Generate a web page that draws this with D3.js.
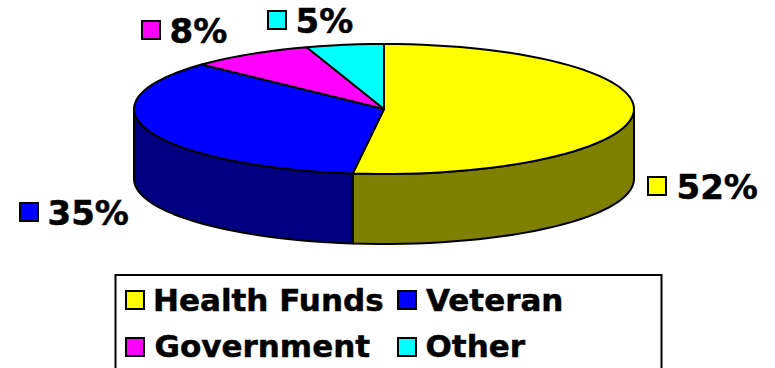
<!DOCTYPE html>
<html>
<head>
<meta charset="utf-8">
<style>
html, body { margin: 0; padding: 0; background: #fff; }
svg { display: block; }
text { font-family: "DejaVu Sans", sans-serif; font-weight: bold; fill: #000; stroke: #000; stroke-width: 0.5px; }
</style>
<script src="https://cdn.jsdelivr.net/npm/d3@7"></script>
</head>
<body>
<svg id="chart" width="775" height="368"></svg>
<script>
const categories = ["Health Funds", "Veteran", "Government", "Other"];
const shares = [52, 35, 8, 5];
const topColors = ["#ffff00", "#0000ff", "#ff00ff", "#00ffff"];
const sideColors = ["#808000", "#000080", "#800080", "#008080"];
const valueKeyPos = [[648, 177], [20, 203], [142, 21], [268, 11]];
const valueTextPos = [[676.5, 199], [47.5, 224.5], [169.5, 42.5], [295.5, 32.5]];
const legendKeyPos = [[126, 291], [398, 291], [126, 338], [398, 338]];
const legendTextPos = [[153, 311], [426, 311], [154.5, 357], [425.5, 357]];

const svg = d3.select("#chart");

// Unit-circle coordinates mapped onto the flattened disc.
const sx = d3.scaleLinear().domain([-1, 1]).range([134, 634]);
const sy = d3.scaleLinear().domain([-1, 1]).range([44, 174]);
const depth = 70;

const arcs = d3.pie().sort(null)(shares);
const outline = d3.line();
const rimPoint = a => [sx(Math.sin(a)), sy(-Math.cos(a))];

function rim(a0, a1) {
  const n = Math.max(2, Math.ceil((a1 - a0) / (Math.PI / 60)));
  return d3.range(n + 1).map(i => rimPoint(a0 + (a1 - a0) * i / n));
}

// Visible wall: only the part of each slice's rim on the near side of the disc.
const wall = svg.append("g");
arcs.forEach((d, i) => {
  const a0 = Math.max(d.startAngle, Math.PI / 2);
  const a1 = Math.min(d.endAngle, 3 * Math.PI / 2);
  if (a1 <= a0) return;
  const upper = rim(a0, a1);
  const lower = upper.slice().reverse().map(([x, y]) => [x, y + depth]);
  wall.append("path")
    .attr("d", outline(upper.concat(lower)) + "Z")
    .attr("fill", sideColors[i])
    .attr("stroke", "#000")
    .attr("stroke-width", 2)
    .attr("stroke-linejoin", "round");
});

// Top faces of the slices.
const faces = svg.append("g");
arcs.forEach((d, i) => {
  const pts = [[sx(0), sy(0)]].concat(rim(d.startAngle, d.endAngle));
  faces.append("path")
    .attr("d", outline(pts) + "Z")
    .attr("fill", topColors[i])
    .attr("stroke", "#000")
    .attr("stroke-width", 2)
    .attr("stroke-linejoin", "round");
});

function swatch(g, [x, y], size, color) {
  g.append("rect")
    .attr("x", x).attr("y", y)
    .attr("width", size).attr("height", size)
    .attr("fill", color)
    .attr("stroke", "#000")
    .attr("stroke-width", 2);
}

// Percentage labels, each with its colour key.
const valueLabels = svg.append("g");
shares.forEach((v, i) => {
  swatch(valueLabels, valueKeyPos[i], 18, topColors[i]);
  valueLabels.append("text")
    .attr("x", valueTextPos[i][0]).attr("y", valueTextPos[i][1])
    .attr("font-size", 34)
    .text(v + "%");
});

// Legend box, running off the bottom of the frame.
const legend = svg.append("g");
legend.append("rect")
  .attr("x", 115.5).attr("y", 275)
  .attr("width", 546).attr("height", 100)
  .attr("fill", "#fff")
  .attr("stroke", "#000")
  .attr("stroke-width", 2);
categories.forEach((name, i) => {
  swatch(legend, legendKeyPos[i], 18, topColors[i]);
  legend.append("text")
    .attr("x", legendTextPos[i][0]).attr("y", legendTextPos[i][1])
    .attr("font-size", 31)
    .text(name);
});
</script>
</body>
</html>
